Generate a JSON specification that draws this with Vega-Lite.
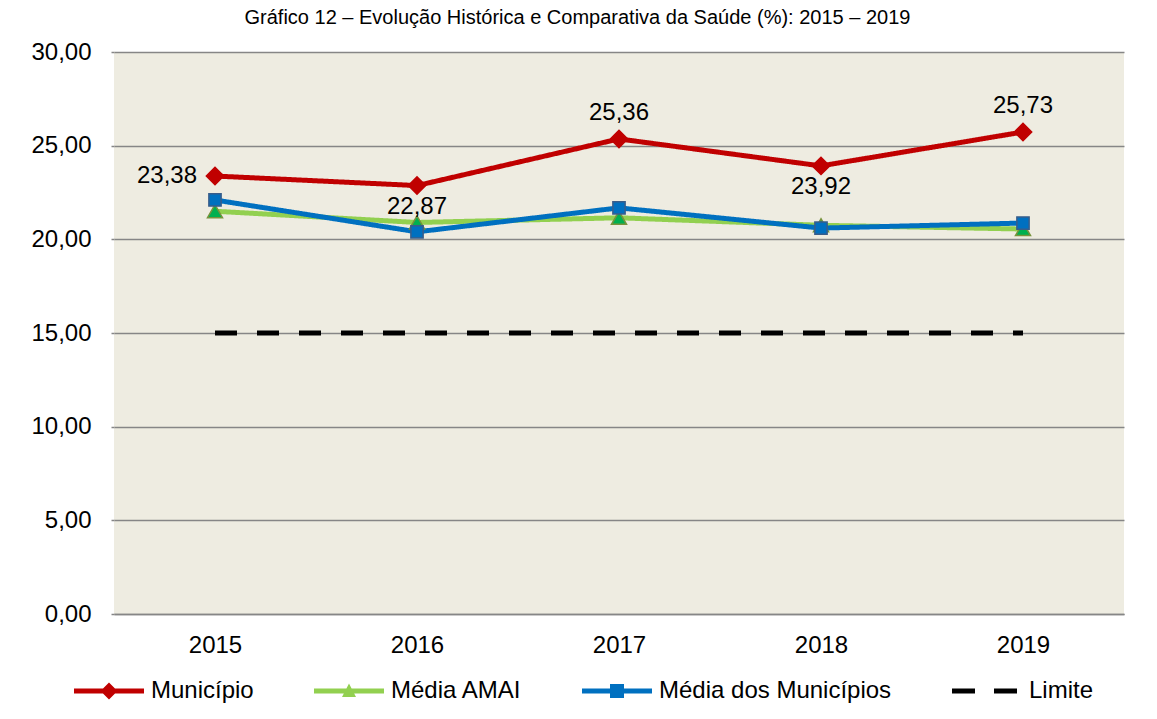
{
  "$schema": "https://vega.github.io/schema/vega-lite/v6.json",
  "width": 1010,
  "height": 562,
  "autosize": {"type": "none"},
  "padding": {"left": 114, "top": 52, "right": 33, "bottom": 105},
  "background": "white",
  "title": {
    "text": "Gráfico 12 – Evolução Histórica e Comparativa da Saúde (%): 2015 – 2019",
    "fontSize": 20,
    "font": "Liberation Sans",
    "fontWeight": "normal",
    "color": "#000000",
    "offset": 12,
    "frame": "bounds",
    "anchor": "middle"
  },
  "data": {
    "values": [
      {"year": "2015", "series": "Município", "value": 23.38},
      {"year": "2016", "series": "Município", "value": 22.87},
      {"year": "2017", "series": "Município", "value": 25.36},
      {"year": "2018", "series": "Município", "value": 23.92},
      {"year": "2019", "series": "Município", "value": 25.73},
      {"year": "2015", "series": "Média AMAI", "value": 21.5},
      {"year": "2016", "series": "Média AMAI", "value": 20.9},
      {"year": "2017", "series": "Média AMAI", "value": 21.15},
      {"year": "2018", "series": "Média AMAI", "value": 20.75},
      {"year": "2019", "series": "Média AMAI", "value": 20.55},
      {"year": "2015", "series": "Média dos Municípios", "value": 22.1},
      {"year": "2016", "series": "Média dos Municípios", "value": 20.4},
      {"year": "2017", "series": "Média dos Municípios", "value": 21.68},
      {"year": "2018", "series": "Média dos Municípios", "value": 20.6},
      {"year": "2019", "series": "Média dos Municípios", "value": 20.87},
      {"year": "2015", "series": "Limite", "value": 15},
      {"year": "2016", "series": "Limite", "value": 15},
      {"year": "2017", "series": "Limite", "value": 15},
      {"year": "2018", "series": "Limite", "value": 15},
      {"year": "2019", "series": "Limite", "value": 15}
    ]
  },
  "encoding": {
    "x": {
      "field": "year",
      "type": "ordinal",
      "scale": {"type": "point", "padding": 0.5},
      "axis": {
        "title": null,
        "labelAngle": 0,
        "labelFontSize": 24,
        "labelFont": "Liberation Sans",
        "labelColor": "#000000",
        "labelPadding": 19,
        "ticks": false,
        "domain": true,
        "domainColor": "#868686",
        "domainWidth": 1.5,
        "grid": false
      }
    },
    "y": {
      "field": "value",
      "type": "quantitative",
      "scale": {"domain": [0, 30], "nice": false, "zero": true},
      "axis": {
        "title": null,
        "values": [0, 5, 10, 15, 20, 25, 30],
        "format": ".2f",
        "labelFontSize": 24,
        "labelFont": "Liberation Sans",
        "labelColor": "#000000",
        "labelPadding": 20,
        "tickSize": 3,
        "tickColor": "#868686",
        "tickWidth": 1.5,
        "domain": false,
        "grid": true,
        "gridColor": "#868686",
        "gridWidth": 1.5
      }
    }
  },
  "layer": [
    {
      "mark": {"type": "line", "strokeWidth": 5, "strokeCap": "butt"},
      "encoding": {
        "color": {
          "field": "series",
          "type": "nominal",
          "sort": ["Município", "Média AMAI", "Média dos Municípios", "Limite"],
          "scale": {
            "domain": ["Município", "Média AMAI", "Média dos Municípios", "Limite"],
            "range": ["#C00000", "#92D050", "#0070C0", "#000000"]
          },
          "legend": {
            "title": null,
            "orient": "none",
            "legendX": -42,
            "legendY": 627,
            "direction": "horizontal",
            "columns": 4,
            "columnPadding": 58,
            "symbolSize": 400,
            "labelOffset": 55,
            "labelFontSize": 24,
            "labelFont": "Liberation Sans",
            "labelColor": "#000000",
            "labelLimit": 400,
            "encode": {
              "symbols": {
                "update": {
                  "fill": {"scale": "color", "field": "value"},
                  "fillOpacity": {"value": 1},
                  "opacity": {"value": 1},
                  "strokeWidth": {"value": 0},
                  "shape": {"signal": "datum.value === 'Município' ? 'M-1,-0.25H6V0.25H-1Z M2.5,-0.85L3.35,0L2.5,0.85L1.65,0Z' : datum.value === 'Média AMAI' ? 'M-1,-0.25H6V0.25H-1Z M2.5,-0.75L3.2,0.6H1.8Z' : datum.value === 'Média dos Municípios' ? 'M-1,-0.25H6V0.25H-1Z M1.8,-0.7H3.2V0.7H1.8Z' : 'M-1,-0.25H1.3V0.25H-1Z M3.2,-0.25H5.5V0.25H3.2Z'"}
                }
              }
            }
          }
        },
        "strokeDash": {
          "field": "series",
          "type": "nominal",
          "scale": {
            "domain": ["Município", "Média AMAI", "Média dos Municípios", "Limite"],
            "range": [[1, 0], [1, 0], [1, 0], [22, 20]]
          },
          "legend": null
        }
      }
    },
    {
      "transform": [{"filter": "datum.series !== 'Limite'"}],
      "mark": {"type": "point", "filled": true, "opacity": 1, "strokeWidth": 1.5},
      "encoding": {
        "shape": {
          "field": "series",
          "type": "nominal",
          "scale": {
            "domain": ["Município", "Média AMAI", "Média dos Municípios"],
            "range": ["diamond", "triangle-up", "square"]
          },
          "legend": null
        },
        "size": {
          "field": "series",
          "type": "nominal",
          "scale": {
            "domain": ["Município", "Média AMAI", "Média dos Municípios"],
            "range": [300, 150, 200]
          },
          "legend": null
        },
        "fill": {
          "field": "series",
          "type": "nominal",
          "scale": {
            "domain": ["Município", "Média AMAI", "Média dos Municípios"],
            "range": ["#C00000", "#00B050", "#0070C0"]
          },
          "legend": null
        },
        "stroke": {
          "field": "series",
          "type": "nominal",
          "scale": {
            "domain": ["Município", "Média AMAI", "Média dos Municípios"],
            "range": ["#C00000", "#77933C", "#385D8A"]
          },
          "legend": null
        }
      }
    },
    {
      "transform": [{"filter": "datum.series === 'Município' && datum.year === '2015'"}],
      "mark": {"type": "text", "align": "right", "baseline": "middle", "dx": -18, "fontSize": 24, "font": "Liberation Sans", "color": "#000000"},
      "encoding": {"text": {"field": "value", "type": "quantitative", "format": ".2f"}}
    },
    {
      "transform": [{"filter": "datum.series === 'Município' && (datum.year === '2016' || datum.year === '2018')"}],
      "mark": {"type": "text", "align": "center", "baseline": "middle", "dy": 21, "fontSize": 24, "font": "Liberation Sans", "color": "#000000"},
      "encoding": {"text": {"field": "value", "type": "quantitative", "format": ".2f"}}
    },
    {
      "transform": [{"filter": "datum.series === 'Município' && (datum.year === '2017' || datum.year === '2019')"}],
      "mark": {"type": "text", "align": "center", "baseline": "middle", "dy": -26, "fontSize": 24, "font": "Liberation Sans", "color": "#000000"},
      "encoding": {"text": {"field": "value", "type": "quantitative", "format": ".2f"}}
    }
  ],
  "config": {
    "locale": {
      "number": {
        "decimal": ",",
        "thousands": ".",
        "grouping": [3],
        "currency": ["R$", ""]
      }
    },
    "view": {"fill": "#EEECE1", "stroke": null}
  }
}
